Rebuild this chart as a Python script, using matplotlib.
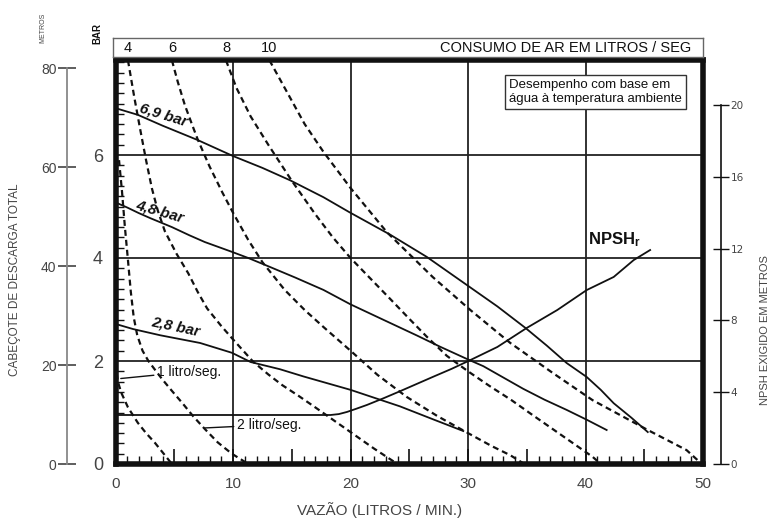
import matplotlib
matplotlib.use('Agg')
import matplotlib.pyplot as plt
from matplotlib.ticker import MultipleLocator, FuncFormatter

plt.rcParams['font.family'] = ['Liberation Sans', 'DejaVu Sans']
plt.rcParams['mathtext.fontset'] = 'custom'
plt.rcParams['mathtext.rm'] = 'Liberation Sans'
plt.rcParams['mathtext.bf'] = 'Liberation Sans:bold'

# ------------------------------------------- #
#  Data              #
# ------------------------------------------- #
# pressure curves: flow (L/min) -> head (bar)
p69_x = [0, 1.9, 4.0, 7.0, 10, 12.5, 14.85, 17.7, 19.9, 23.4, 26.5, 30, 32.5, 34.9, 36.7,
         38.4, 40.1, 41.3, 42.4, 43.9, 45.3]
p69_y = [6.91, 6.78, 6.57, 6.29, 5.98, 5.75, 5.51, 5.18, 4.89, 4.45, 4.02, 3.46, 3.06, 2.64, 2.3,
         1.96, 1.69, 1.44, 1.18, 0.9, 0.62]

p48_x = [0, 1, 2, 3, 4.8, 6.3, 7.6, 9.9, 11.3, 13, 15.3, 17.7, 20, 22.8, 25.7, 27.6, 30, 31.3,
         33, 34.7, 36.5, 38.4, 40.1, 41.8]
p48_y = [5.08, 4.98, 4.87, 4.77, 4.6, 4.44, 4.31, 4.12, 4.0, 3.84, 3.62, 3.38, 3.1, 2.8, 2.49,
         2.28, 2.03, 1.9, 1.68, 1.46, 1.25, 1.05, 0.86, 0.66]

p28_x = [0, 1.5, 3.8, 7.2, 9.9, 11.5, 14, 16, 20, 24.2, 27, 29.6]
p28_y = [2.72, 2.62, 2.5, 2.35, 2.16, 1.98, 1.84, 1.7, 1.44, 1.12, 0.87, 0.64]

# air consumption curves (L/s): flow (L/min) -> head (bar)
air1_x = [0.0, 0.2, 0.5, 1.06, 1.9, 2.6, 3.36, 4.1, 4.8]
air1_y = [1.95, 1.6, 1.38, 1.1, 0.8, 0.6, 0.41, 0.2, 0.0]

air2_x = [0.3, 0.55, 0.8, 1.06, 1.3, 1.55, 1.85, 2.3, 2.8, 3.36, 3.96, 4.8, 5.7, 6.6, 7.6,
          8.7, 9.9, 11.3]
air2_y = [5.9, 5.3, 4.6, 3.96, 3.35, 2.85, 2.5, 2.2, 2.0, 1.83, 1.65, 1.42, 1.18, 0.93, 0.68,
          0.42, 0.2, 0.0]

air4_x = [1.06, 1.6, 2.1, 2.6, 3.1, 3.6, 4.2, 5.2, 6.2, 7.0, 7.8, 9.0, 10, 11.7, 13, 14.2,
          15.6, 17, 18.5, 20, 22, 24]
air4_y = [7.84, 7.12, 6.5, 5.9, 5.35, 4.92, 4.52, 4.08, 3.7, 3.34, 3.02, 2.68, 2.42, 1.99, 1.74,
          1.53, 1.32, 1.1, 0.86, 0.62, 0.3, 0.0]

air6_x = [4.8, 5.3, 5.9, 6.5, 7.0, 8.0, 9.1, 10, 11.3, 12.5, 14.4, 16.1, 17.7, 20, 22.3, 24.8,
          27.4, 30, 32, 33.6, 34.8]
air6_y = [7.84, 7.42, 6.97, 6.6, 6.3, 5.78, 5.27, 4.88, 4.35, 3.92, 3.38, 2.99, 2.66, 2.2, 1.73,
          1.3, 0.93, 0.6, 0.35, 0.17, 0.0]

air8_x = [9.4, 10.3, 11.5, 13, 15, 17, 18.5, 20, 21.7, 23.4, 25, 26.5, 28.2, 30, 31.8, 33.7,
          35.5, 37.2, 38.9, 40.6, 41.3]
air8_y = [7.84, 7.3, 6.75, 6.2, 5.5, 4.85, 4.4, 4.0, 3.6, 3.2, 2.82, 2.47, 2.1, 1.8, 1.52, 1.24,
          0.95, 0.68, 0.41, 0.14, 0.0]

air10_x = [13.1, 16.1, 17.7, 20, 23.1, 25.7, 27, 30.2, 33.6, 37.2, 40.6, 45.3, 48.6, 49.9]
air10_y = [7.84, 6.6, 6.06, 5.36, 4.5, 3.92, 3.63, 2.99, 2.35, 1.77, 1.24, 0.66, 0.27, 0.0]

# NPSH required: flow (L/min) -> metres
npsh_x = [0, 18.3, 19.0, 19.7, 20.5, 21.4, 22.8, 24.2, 25.6, 27, 28.6, 30.2, 32.5, 35, 37.6,
          40.1, 42.4, 44.1, 45.5]
npsh_y = [2.73, 2.73, 2.78, 2.9, 3.08, 3.29, 3.66, 4.05, 4.45, 4.85, 5.3, 5.79, 6.52, 7.58, 8.58,
          9.69, 10.42, 11.36, 11.92]

air_top_labels = ['4', '6', '8', '10']
x_ticks = [0, 10, 20, 30, 40, 50]
bar_ticks = [0, 2, 4, 6]
metre_ticks = [0, 20, 40, 60, 80]
npsh_ticks = [0, 4, 8, 12, 16, 20]

# ------------------------------------------- #
#  Layout (pixels)                            #
# ------------------------------------------- #
W, H = 784, 520
L, R, T, B = 115.5, 703, 60, 464
PX_BAR = 51.5      # pixels per bar
PX_M = 4.95        # pixels per metre (left head axis)
PX_NPSH = 17.95    # pixels per metre (right npsh axis)

INK = '#111111'
GREY = '#444444'

fig = plt.figure(figsize=(W / 100, H / 100), dpi=100)
ax = fig.add_axes([L / W, 1 - B / H, (R - L) / W, (B - T) / H])
ax.set_xlim(0, 50)
ax.set_ylim(0, (B - T) / PX_BAR)

for sp in ax.spines.values():
    sp.set_linewidth(4)
    sp.set_color(INK)
    sp.set_zorder(5)

# ticks on the frame: long ones every 5, short ones every 1 / 0.2 bar
ax.xaxis.set_major_locator(MultipleLocator(5))
ax.xaxis.set_major_formatter(FuncFormatter(lambda v, p: f'{int(v)}' if v % 10 == 0 else ''))
ax.xaxis.set_minor_locator(MultipleLocator(1))
ax.set_yticks(bar_ticks)
ax.yaxis.set_minor_locator(MultipleLocator(0.2))

# grid
for gx in x_ticks[1:-1]:
    ax.axvline(gx, color='#222222', lw=1.3, zorder=1)
for gy in bar_ticks[1:]:
    ax.axhline(gy, color='#222222', lw=1.3, zorder=1)

ax.tick_params(axis='x', which='major', direction='in', length=11, width=1.2, color=INK,
               labelsize=11, labelcolor=GREY, pad=9, top=False)
ax.tick_params(axis='x', which='minor', direction='in', length=5.5, width=1, color=INK, top=False)
ax.tick_params(axis='y', which='major', direction='in', length=0, labelsize=13,
               labelcolor=GREY, pad=9, right=False)
ax.tick_params(axis='y', which='minor', direction='in', length=5.5, width=1, color=INK, right=False)

# curves
dash = (0, (2.7, 1.8))
for xs, ys in [(air1_x, air1_y), (air2_x, air2_y), (air4_x, air4_y),
               (air6_x, air6_y), (air8_x, air8_y), (air10_x, air10_y)]:
    ax.plot(xs, ys, color=INK, lw=1.6, linestyle=dash, zorder=3)

for xs, ys in [(p69_x, p69_y), (p48_x, p48_y), (p28_x, p28_y)]:
    ax.plot(xs, ys, color=INK, lw=1.3, zorder=3)

# curve labels
lab = dict(fontsize=11, fontweight='bold', fontstyle='italic', color=INK,
           ha='center', va='center', zorder=4)
ax.text(4.05, 6.78, '6,9 bar', rotation=-17, **lab)
ax.text(3.8, 4.91, '4,8 bar', rotation=-16, **lab)
ax.text(5.15, 2.66, '2,8 bar', rotation=-12, **lab)

ax.annotate('1 litro/seg.', xy=(0.45, 1.66), xytext=(3.5, 1.79), fontsize=10,
            color=INK, va='center', ha='left',
            arrowprops=dict(arrowstyle='-', color=INK, lw=1, shrinkA=0, shrinkB=0))
ax.annotate('2 litro/seg.', xy=(7.6, 0.7), xytext=(10.3, 0.76), fontsize=10,
            color=INK, va='center', ha='left',
            arrowprops=dict(arrowstyle='-', color=INK, lw=1, shrinkA=0, shrinkB=0))

ax.text(40.2, 4.35, r'$\mathbf{NPSH_r}$', fontsize=12, color=INK, ha='left', va='center')

fig.text(509 / W, 1 - 92 / H, 'Desempenho com base em\nágua à temperatura ambiente',
         fontsize=9.5, color=INK, ha='left', va='center', linespacing=1.3,
         bbox=dict(boxstyle='square,pad=0.3', fc='white', ec='#333333', lw=1))

# NPSH axis (right)
ax_n = ax.twinx()
ax_n.set_ylim(0, (B - T) / PX_NPSH)
ax_n.plot(npsh_x, npsh_y, color=INK, lw=1.3, zorder=3)
for k in ['top', 'bottom', 'left']:
    ax_n.spines[k].set_visible(False)
ax_n.spines['right'].set_position(('axes', (721 - L) / (R - L)))
ax_n.spines['right'].set_bounds(0, 20)
ax_n.spines['right'].set_linewidth(1.2)
ax_n.spines['right'].set_color(INK)
ax_n.set_yticks(npsh_ticks)
ax_n.tick_params(axis='y', direction='inout', length=12, width=1, color=INK,
                 labelsize=7.5, labelcolor=GREY, pad=1)
for t in ax_n.get_yticklabels():
    t.set_family(['Liberation Sans Narrow', 'DejaVu Sans'])
fig.text(765 / W, 1 - 330 / H, 'NPSH EXIGIDO EM METROS', rotation=90,
         fontsize=8, color=GREY, ha='center', va='center')

# head in metres (left)
ax_m = ax.twinx()
ax_m.set_ylim(0, (B - T) / PX_M)
for k in ['top', 'bottom', 'right']:
    ax_m.spines[k].set_visible(False)
ax_m.spines['left'].set_visible(True)
ax_m.spines['left'].set_position(('axes', (67 - L) / (R - L)))
ax_m.spines['left'].set_bounds(0, 80)
ax_m.spines['left'].set_linewidth(1.3)
ax_m.spines['left'].set_color('#888888')
ax_m.yaxis.tick_left()
ax_m.set_yticks(metre_ticks)
ax_m.tick_params(axis='y', direction='inout', length=13, width=1.1, color='#333333',
                 labelsize=10, labelcolor=GREY, pad=1)
fig.text(15 / W, 1 - 280 / H, 'CABEÇOTE DE DESCARGA TOTAL', rotation=90,
         fontsize=8.5, color=GREY, ha='center', va='center')
fig.text(43 / W, 1 - 28 / H, 'METROS', rotation=90, fontsize=5, color=GREY,
         ha='center', va='center')
fig.text(97 / W, 1 - 33 / H, 'BAR', rotation=90, fontsize=7, fontweight='bold',
         color=INK, ha='center', va='center')

fig.text(380 / W, 1 - 510 / H, 'VAZÃO (LITROS / MIN.)', fontsize=11, color=GREY,
         ha='center', va='center')

# air consumption strip (top)
ax_t = fig.add_axes([113 / W, 1 - 57 / H, (R - 113) / W, 19 / H])
ax_t.set_xlim(-(L - 113) / ((R - L) / 50), 50)
ax_t.set_ylim(0, 1)
ax_t.set_xticks([])
ax_t.set_yticks([])
for sp in ax_t.spines.values():
    sp.set_color('#666666')
    sp.set_linewidth(1)
for xs, t in zip([air4_x, air6_x, air8_x, air10_x], air_top_labels):
    ax_t.text(xs[0], 0.45, t, fontsize=10.5, color=INK, ha='center', va='center')
ax_t.text(49.0, 0.45, 'CONSUMO DE AR EM LITROS / SEG', fontsize=10.5, color=INK,
          ha='right', va='center')

fig.savefig('out.png', dpi=100)
